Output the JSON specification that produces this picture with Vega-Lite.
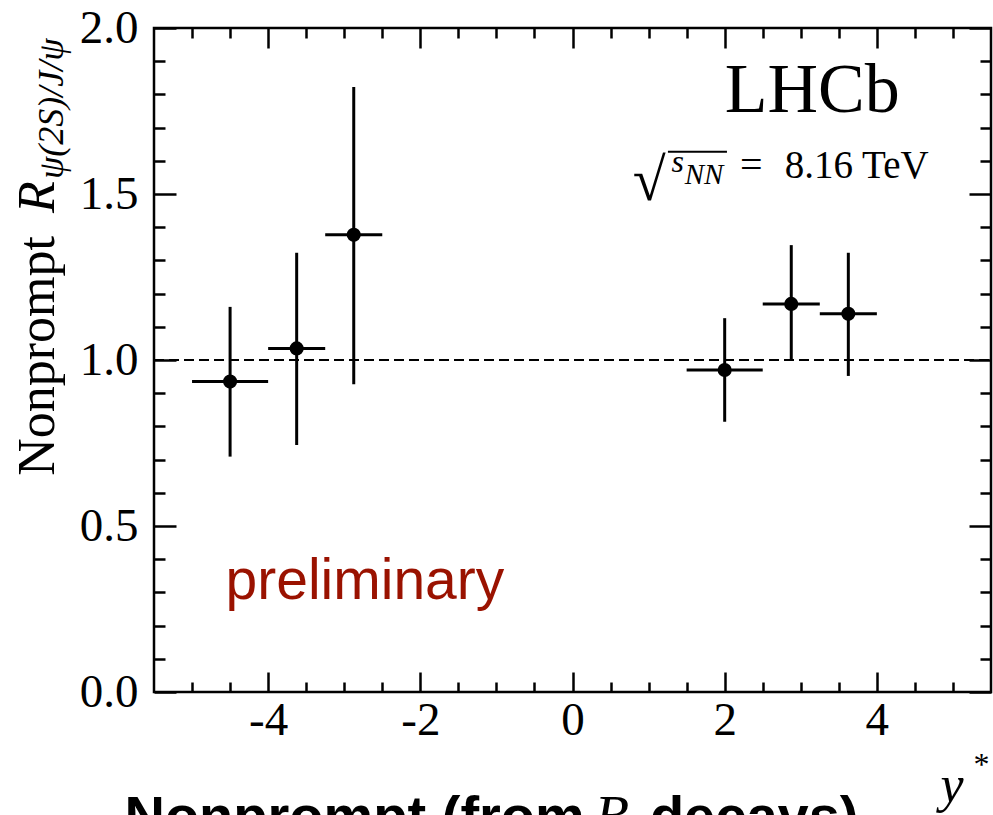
{
  "$schema": "https://vega.github.io/schema/vega-lite/v6.json",
  "width": 837,
  "height": 664,
  "autosize": {"type": "none"},
  "padding": {"left": 154, "top": 28, "right": 2, "bottom": 123},
  "background": "white",
  "config": {
    "view": {"stroke": "black", "strokeWidth": 2.5},
    "axis": {
      "domain": false,
      "grid": false,
      "title": null,
      "tickColor": "black",
      "tickWidth": 2.5,
      "labelFont": "Liberation Serif",
      "labelFontSize": 47,
      "labelColor": "black",
      "labelOverlap": false,
      "labelFlush": false
    }
  },
  "data": {
    "values": [
      {"ystar": -4.5, "lo_bin": -5.0, "hi_bin": -4.0, "ratio": 0.935, "err_lo": 0.709, "err_hi": 1.160},
      {"ystar": -3.625, "lo_bin": -4.0, "hi_bin": -3.25, "ratio": 1.035, "err_lo": 0.744, "err_hi": 1.323},
      {"ystar": -2.875, "lo_bin": -3.25, "hi_bin": -2.5, "ratio": 1.377, "err_lo": 0.927, "err_hi": 1.822},
      {"ystar": 2.0, "lo_bin": 1.5, "hi_bin": 2.5, "ratio": 0.970, "err_lo": 0.814, "err_hi": 1.126},
      {"ystar": 2.875, "lo_bin": 2.5, "hi_bin": 3.25, "ratio": 1.169, "err_lo": 0.998, "err_hi": 1.346},
      {"ystar": 3.625, "lo_bin": 3.25, "hi_bin": 4.0, "ratio": 1.139, "err_lo": 0.952, "err_hi": 1.323}
    ]
  },
  "resolve": {"axis": {"x": "independent", "y": "independent"}},
  "layer": [
    {
      "mark": {"type": "rule", "color": "black", "strokeWidth": 3},
      "encoding": {
        "x": {
          "field": "lo_bin", "type": "quantitative",
          "scale": {"domain": [-5.5, 5.5], "nice": false, "zero": false},
          "axis": {"orient": "bottom", "values": [-4, -2, 0, 2, 4], "tickSize": -20, "labelPadding": 25, "labelExpr": "'' + datum.value"}
        },
        "x2": {"field": "hi_bin"},
        "y": {
          "field": "ratio", "type": "quantitative",
          "scale": {"domain": [0, 2], "nice": false, "zero": false},
          "axis": {"orient": "left", "values": [0, 0.5, 1, 1.5, 2], "tickSize": -22, "labelPadding": 38, "format": ".1f"}
        }
      }
    },
    {
      "mark": {"type": "rule", "color": "black", "strokeWidth": 3},
      "encoding": {
        "x": {
          "field": "ystar", "type": "quantitative",
          "axis": {"orient": "top", "values": [-4, -2, 0, 2, 4], "tickSize": -20, "labels": false}
        },
        "y": {
          "field": "err_lo", "type": "quantitative",
          "axis": {"orient": "right", "values": [0, 0.5, 1, 1.5, 2], "tickSize": -22, "labels": false}
        },
        "y2": {"field": "err_hi"}
      }
    },
    {
      "mark": {"type": "circle", "color": "black", "opacity": 1, "size": 200},
      "encoding": {
        "x": {
          "field": "ystar", "type": "quantitative",
          "axis": {"orient": "bottom", "values": [-5, -4.5, -3.5, -3, -2.5, -1.5, -1, -0.5, 0.5, 1, 1.5, 2.5, 3, 3.5, 4.5, 5], "tickSize": -10, "labels": false}
        },
        "y": {
          "field": "ratio", "type": "quantitative",
          "axis": {"orient": "left", "values": [0.1, 0.2, 0.3, 0.4, 0.6, 0.7, 0.8, 0.9, 1.1, 1.2, 1.3, 1.4, 1.6, 1.7, 1.8, 1.9], "tickSize": -11, "labels": false}
        }
      }
    },
    {
      "data": {"values": [{"ref": 1}]},
      "mark": {"type": "rule", "color": "black", "strokeWidth": 2, "strokeDash": [10, 5]},
      "encoding": {
        "x": {
          "datum": -5.5, "type": "quantitative",
          "axis": {"orient": "top", "values": [-5, -4.5, -3.5, -3, -2.5, -1.5, -1, -0.5, 0.5, 1, 1.5, 2.5, 3, 3.5, 4.5, 5], "tickSize": -10, "labels": false}
        },
        "x2": {"datum": 5.5},
        "y": {
          "field": "ref", "type": "quantitative",
          "axis": {"orient": "right", "values": [0.1, 0.2, 0.3, 0.4, 0.6, 0.7, 0.8, 0.9, 1.1, 1.2, 1.3, 1.4, 1.6, 1.7, 1.8, 1.9], "tickSize": -11, "labels": false}
        }
      }
    },
    {
      "data": {"values": [{"label": "LHCb"}]},
      "mark": {"type": "text", "font": "Liberation Serif", "fontSize": 70, "align": "left", "baseline": "alphabetic", "color": "black"},
      "encoding": {
        "x": {"datum": 2.0, "type": "quantitative", "axis": null},
        "y": {"datum": 1.747, "type": "quantitative", "axis": null},
        "text": {"field": "label"}
      }
    },
    {
      "data": {"values": [{"label": "√"}]},
      "mark": {"type": "text", "font": "Liberation Serif", "fontSize": 60, "align": "left", "baseline": "alphabetic", "color": "black"},
      "encoding": {
        "x": {"datum": 0.793, "type": "quantitative", "axis": null},
        "y": {"datum": 1.482, "type": "quantitative", "axis": null},
        "text": {"field": "label"}
      }
    },
    {
      "data": {"values": [{"a": 1.254, "b": 2.03, "v": 1.627}]},
      "mark": {"type": "rule", "color": "black", "strokeWidth": 2},
      "encoding": {
        "x": {"field": "a", "type": "quantitative", "axis": null},
        "x2": {"field": "b"},
        "y": {"field": "v", "type": "quantitative", "axis": null}
      }
    },
    {
      "data": {"values": [{"label": "s"}]},
      "mark": {"type": "text", "font": "Liberation Serif", "fontStyle": "italic", "fontSize": 32, "align": "left", "baseline": "alphabetic", "color": "black"},
      "encoding": {
        "x": {"datum": 1.30, "type": "quantitative", "axis": null},
        "y": {"datum": 1.566, "type": "quantitative", "axis": null},
        "text": {"field": "label"}
      }
    },
    {
      "data": {"values": [{"label": "NN"}]},
      "mark": {"type": "text", "font": "Liberation Serif", "fontStyle": "italic", "fontSize": 29, "align": "left", "baseline": "alphabetic", "color": "black"},
      "encoding": {
        "x": {"datum": 1.475, "type": "quantitative", "axis": null},
        "y": {"datum": 1.530, "type": "quantitative", "axis": null},
        "text": {"field": "label"}
      }
    },
    {
      "data": {"values": [{"label": "="}]},
      "mark": {"type": "text", "font": "Liberation Serif", "fontSize": 40, "align": "left", "baseline": "alphabetic", "color": "black"},
      "encoding": {
        "x": {"datum": 2.2, "type": "quantitative", "axis": null},
        "y": {"datum": 1.548, "type": "quantitative", "axis": null},
        "text": {"field": "label"}
      }
    },
    {
      "data": {"values": [{"label": "8.16 TeV"}]},
      "mark": {"type": "text", "font": "Liberation Serif", "fontSize": 39, "align": "left", "baseline": "alphabetic", "color": "black"},
      "encoding": {
        "x": {"datum": 2.79, "type": "quantitative", "axis": null},
        "y": {"datum": 1.548, "type": "quantitative", "axis": null},
        "text": {"field": "label"}
      }
    },
    {
      "data": {"values": [{"label": "preliminary"}]},
      "mark": {"type": "text", "font": "Liberation Sans", "fontSize": 57, "align": "left", "baseline": "alphabetic", "color": "#9a1200"},
      "encoding": {
        "x": {"datum": -4.56, "type": "quantitative", "axis": null},
        "y": {"datum": 0.28, "type": "quantitative", "axis": null},
        "text": {"field": "label"}
      }
    },
    {
      "data": {"values": [{"label": "Nonprompt"}]},
      "mark": {"type": "text", "font": "Liberation Serif", "fontSize": 52, "angle": 270, "align": "left", "baseline": "alphabetic", "color": "black"},
      "encoding": {
        "x": {"datum": -6.81, "type": "quantitative", "axis": null},
        "y": {"datum": 0.651, "type": "quantitative", "axis": null},
        "text": {"field": "label"}
      }
    },
    {
      "data": {"values": [{"label": "R"}]},
      "mark": {"type": "text", "font": "Liberation Serif", "fontStyle": "italic", "fontSize": 52, "angle": 270, "align": "left", "baseline": "alphabetic", "color": "black"},
      "encoding": {
        "x": {"datum": -6.81, "type": "quantitative", "axis": null},
        "y": {"datum": 1.443, "type": "quantitative", "axis": null},
        "text": {"field": "label"}
      }
    },
    {
      "data": {"values": [{"label": "ψ(2S)/J/ψ"}]},
      "mark": {"type": "text", "font": "Liberation Serif", "fontStyle": "italic", "fontSize": 36, "angle": 270, "align": "left", "baseline": "alphabetic", "color": "black"},
      "encoding": {
        "x": {"datum": -6.70, "type": "quantitative", "axis": null},
        "y": {"datum": 1.545, "type": "quantitative", "axis": null},
        "text": {"field": "label"}
      }
    },
    {
      "data": {"values": [{"label": "y"}]},
      "mark": {"type": "text", "font": "Liberation Serif", "fontStyle": "italic", "fontSize": 52, "align": "left", "baseline": "alphabetic", "color": "black"},
      "encoding": {
        "x": {"datum": 4.836, "type": "quantitative", "axis": null},
        "y": {"datum": -0.33, "type": "quantitative", "axis": null},
        "text": {"field": "label"}
      }
    },
    {
      "data": {"values": [{"label": "*"}]},
      "mark": {"type": "text", "font": "Liberation Serif", "fontSize": 32, "align": "left", "baseline": "alphabetic", "color": "black"},
      "encoding": {
        "x": {"datum": 5.27, "type": "quantitative", "axis": null},
        "y": {"datum": -0.25, "type": "quantitative", "axis": null},
        "text": {"field": "label"}
      }
    },
    {
      "data": {"values": [{"label": "Nonprompt (from"}]},
      "mark": {"type": "text", "font": "Liberation Sans", "fontWeight": "bold", "fontSize": 56, "align": "right", "baseline": "alphabetic", "color": "black"},
      "encoding": {
        "x": {"datum": 0.162, "type": "quantitative", "axis": null},
        "y": {"datum": -0.431, "type": "quantitative", "axis": null},
        "text": {"field": "label"}
      }
    },
    {
      "data": {"values": [{"label": "B"}]},
      "mark": {"type": "text", "font": "Liberation Serif", "fontStyle": "italic", "fontSize": 56, "align": "left", "baseline": "alphabetic", "color": "black"},
      "encoding": {
        "x": {"datum": 0.293, "type": "quantitative", "axis": null},
        "y": {"datum": -0.431, "type": "quantitative", "axis": null},
        "text": {"field": "label"}
      }
    },
    {
      "data": {"values": [{"label": "decays)"}]},
      "mark": {"type": "text", "font": "Liberation Sans", "fontWeight": "bold", "fontSize": 56, "align": "left", "baseline": "alphabetic", "color": "black"},
      "encoding": {
        "x": {"datum": 1.017, "type": "quantitative", "axis": null},
        "y": {"datum": -0.431, "type": "quantitative", "axis": null},
        "text": {"field": "label"}
      }
    }
  ]
}
